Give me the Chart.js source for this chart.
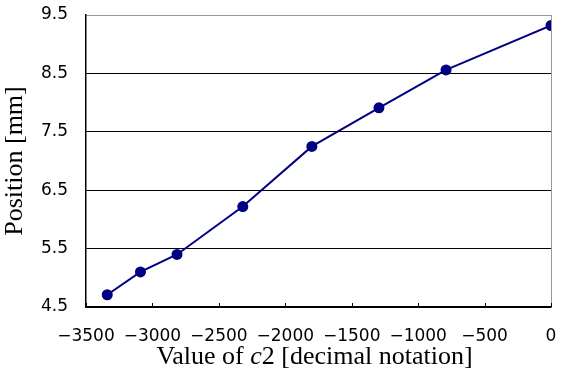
<!DOCTYPE html>
<html>
<head>
<meta charset="utf-8">
<script src="https://cdn.jsdelivr.net/npm/chart.js@4/dist/chart.umd.min.js"></script>
<style>
  html, body { margin: 0; padding: 0; background: #fff; }
  #wrap { width: 565px; height: 385px; }
</style>
</head>
<body>
<div id="wrap"><canvas id="c2chart"></canvas></div>
<script>
const c2Values = [-3340, -3090, -2815, -2320, -1800, -1295, -790, 0]
const positions = [4.71, 5.10, 5.40, 6.22, 7.25, 7.91, 8.56, 9.32]
const xTicks = [-3500, -3000, -2500, -2000, -1500, -1000, -500, 0]
const yTicks = [4.5, 5.5, 6.5, 7.5, 8.5, 9.5]

const lineColor = "#000080"
const tickFont = { family: "DejaVu Sans", size: 17 }
const serif = "'Liberation Serif', 'Times New Roman', serif"

// frame: gray right edge, short inward ticks on the x axis, x title with italic c
const frame = {
    id: 'frame',
    afterDraw(chart) {
        const { ctx, chartArea: a, scales } = chart
        ctx.save()
        ctx.strokeStyle = '#999'
        ctx.lineWidth = 1
        ctx.beginPath()
        ctx.moveTo(Math.round(a.right) + 0.5, a.top)
        ctx.lineTo(Math.round(a.right) + 0.5, a.bottom)
        ctx.stroke()

        ctx.strokeStyle = '#000'
        ctx.beginPath()
        xTicks.forEach(v => {
            const x = Math.round(scales.x.getPixelForValue(v)) + 0.5
            ctx.moveTo(x, a.bottom)
            ctx.lineTo(x, a.bottom - 4)
        })
        ctx.stroke()

        // "Value of c2 [decimal notation]"
        const parts = [
            ['Value of ', 'normal'],
            ['c', 'italic'],
            ['2 [decimal notation]', 'normal']
        ]
        const size = 26
        let total = 0
        parts.forEach(p => {
            ctx.font = p[1] + ' ' + size + 'px ' + serif
            total += ctx.measureText(p[0]).width
        })
        let x = (a.left + a.right) / 2 - 4 - total / 2
        const y = a.bottom + 57
        ctx.fillStyle = '#000'
        ctx.textBaseline = 'alphabetic'
        ctx.textAlign = 'left'
        parts.forEach(p => {
            ctx.font = p[1] + ' ' + size + 'px ' + serif
            ctx.fillText(p[0], x, y)
            x += ctx.measureText(p[0]).width
        })
        ctx.restore()
    }
}

const chart = new Chart(document.getElementById("c2chart"), {
    type: 'line',
    data: {
        datasets: [{
            data: c2Values.map((v, i) => ({ x: v, y: positions[i] })),
            borderColor: lineColor,
            backgroundColor: lineColor,
            borderWidth: 2,
            pointRadius: 5.5,
            pointHoverRadius: 5.5,
            pointBorderWidth: 0,
            tension: 0
        }]
    },
    options: {
        responsive: true,
        maintainAspectRatio: false,
        animation: false,
        layout: { padding: { top: 15, right: 14, left: 0, bottom: 0 } },
        plugins: {
            legend: { display: false },
            tooltip: { enabled: false }
        },
        scales: {
            x: {
                type: 'linear',
                min: -3500,
                max: 0,
                afterBuildTicks: s => { s.ticks = xTicks.map(v => ({ value: v })) },
                afterFit: s => {
                    s.height = 78
                    s.paddingLeft = 0
                    s.paddingRight = 0
                },
                ticks: {
                    font: tickFont,
                    color: '#000',
                    padding: 19,
                    maxRotation: 0,
                    callback: v => String(v).replace('-', '\u2212')
                },
                grid: { drawOnChartArea: false, drawTicks: false },
                border: { color: '#000', width: 1.5 }
            },
            y: {
                min: 4.5,
                max: 9.5,
                afterBuildTicks: s => { s.ticks = yTicks.map(v => ({ value: v })) },
                afterFit: s => {
                    s.width = 86
                    s.paddingTop = 0
                    s.paddingBottom = 0
                },
                ticks: {
                    font: tickFont,
                    color: '#000',
                    padding: 18,
                    callback: v => v.toFixed(1)
                },
                grid: {
                    drawTicks: false,
                    color: ctx => ctx.tick && ctx.tick.value === 9.5 ? '#999' : '#000',
                    lineWidth: 1
                },
                border: { color: '#000', width: 1.5 },
                title: {
                    display: true,
                    text: 'Position [mm]',
                    color: '#000',
                    font: { family: serif, size: 26 },
                    padding: { top: 0, bottom: 0 }
                }
            }
        }
    },
    plugins: [frame]
})
</script>
</body>
</html>
